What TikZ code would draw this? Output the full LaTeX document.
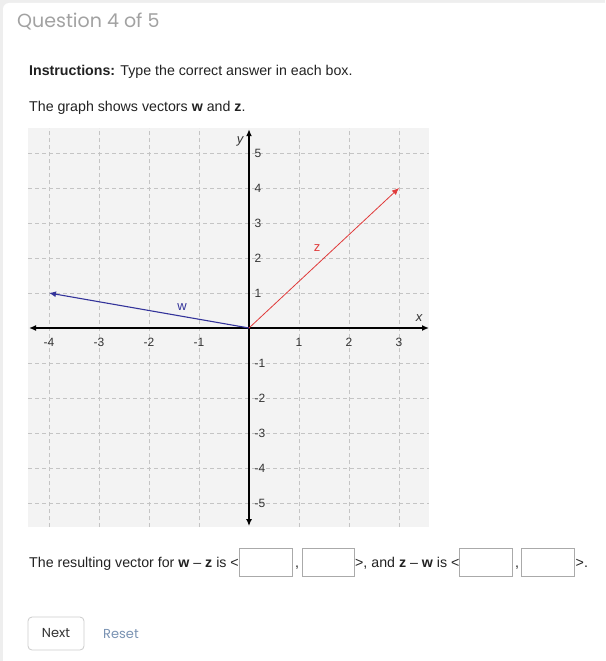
\documentclass[tikz,border=0pt]{standalone}
\usepackage{fontspec}
\setmainfont{Liberation Sans}
\newfontfamily\headfont{Poppins}
\usetikzlibrary{arrows.meta}
\definecolor{pagebg}{HTML}{EEEEEE}
\definecolor{graphbg}{HTML}{F3F3F3}
\definecolor{gridc}{HTML}{C4C4C4}
\definecolor{titlegray}{HTML}{A2A2A2}
\definecolor{textc}{HTML}{222222}
\definecolor{labelc}{HTML}{333333}
\definecolor{wcol}{HTML}{33339A}
\definecolor{zcol}{HTML}{E03A3A}
\definecolor{boxc}{HTML}{AAAAAA}
\definecolor{btnborder}{HTML}{CCCCCC}
\definecolor{resetc}{HTML}{7A93B3}
\tikzset{
  bodytext/.style={inner sep=0pt, text=textc, font=\fontsize{14.2}{16}\selectfont},
  gridline/.style={gridc, line width=0.8pt, dash pattern=on 4pt off 3pt},
  axisline/.style={black, line width=1.4pt, {Latex[length=7pt,width=6pt]}-{Latex[length=7pt,width=6pt]}},
  ticklabel/.style={inner sep=0pt, text=labelc, font=\fontsize{12}{14}\selectfont},
  vecw/.style={wcol, line width=1.1pt, -{Latex[length=7pt,width=6pt]}},
  vecz/.style={zcol, line width=0.8pt, -{Latex[length=7pt,width=6pt]}},
  ansbox/.style={draw=boxc, line width=0.9pt}
}
\begin{document}
\begin{tikzpicture}[x=1pt,y=-1pt]
\useasboundingbox (0,0) rectangle (605,661);
\clip (0,0) rectangle (605,661);
\fill[pagebg] (0,0) rectangle (605,661);
\fill[white, rounded corners=6pt] (3,3) rectangle (630,690);

% title
\node[anchor=west, inner sep=0pt, text=titlegray, font=\headfont\fontsize{19}{22}\selectfont] (title) at (17,21) {Question 4 of 5};

% instructions
\node[bodytext, anchor=base west] (instr) at (29,75.5) {\textbf{Instructions:} Type the correct answer in each box.};
\node[bodytext, anchor=base west] (intro) at (29,111) {The graph shows vectors \textbf{w} and \textbf{z}.};

% graph
\fill[graphbg] (28,128) rectangle (429,527);
\begin{scope}[shift={(249,328)}, x=50pt, y=35pt]
  \foreach \gx in {-4,-3,-2,-1,1,2,3}
    \draw[gridline] (\gx,-5.686) -- (\gx,5.714);
  \foreach \gy in {-5,-4,-3,-2,-1,1,2,3,4,5}
    \draw[gridline] (-4.42,\gy) -- (3.6,\gy);
  \coordinate (xl) at (-4.4,0);
  \coordinate (xr) at (3.6,0);
  \coordinate (yb) at (0,-5.66);
  \coordinate (yt) at (0,5.68);
  \draw[axisline] (xl) -- (xr);
  \draw[axisline] (yb) -- (yt);
  \foreach \gx in {-4,-3,-2,-1,1,2,3}
    \node[ticklabel] (tx\gx) at (\gx,-0.4) {\gx};
  \foreach \gy in {-5,-4,-3,-2,-1,1,2,3,4,5}
    \node[ticklabel, anchor=west] (ty\gy) at (0.11,\gy) {\gy};
  \node[ticklabel, font=\itshape\fontsize{13}{15}\selectfont] (xlab) at (3.4,0.27) {x};
  \node[ticklabel, font=\itshape\fontsize{13}{15}\selectfont] (ylab) at (-0.18,5.34) {y};
  \coordinate (O) at (0,0);
  \coordinate (W) at (-4,1);
  \coordinate (Z) at (3,4);
  \draw[vecw] (O) -- (W);
  \draw[vecz] (O) -- (Z);
  \node[text=wcol, inner sep=0pt, font=\fontsize{13}{15}\selectfont] (wlab) at (-1.34,0.6) {w};
  \node[text=zcol, inner sep=0pt, font=\fontsize{13}{15}\selectfont] (zlab) at (1.36,2.29) {z};
\end{scope}

% answer line
\node[bodytext, anchor=base west] (t1) at (29,567) {The resulting vector for \textbf{w} -- \textbf{z} is <};
\draw[ansbox] (239.5,548.5) rectangle (292.5,576.5);
\node[bodytext, anchor=base] (c1) at (297,567) {,};
\draw[ansbox] (302.5,548.5) rectangle (354,576.5);
\node[bodytext, anchor=base west] (t2) at (355,567) {>, and \textbf{z} -- \textbf{w} is <};
\draw[ansbox] (459.5,548.5) rectangle (512.5,576.5);
\node[bodytext, anchor=base] (c2) at (517,567) {,};
\draw[ansbox] (521.5,548.5) rectangle (574.5,576.5);
\node[bodytext, anchor=base west] (t3) at (575.5,567) {>.};

% buttons
\node[draw=btnborder, line width=0.8pt, rounded corners=4pt, minimum width=56pt, minimum height=33pt, inner sep=0pt, text=labelc, font=\headfont\fontsize{13}{15}\selectfont] (next) at (56,633.5) {Next};
\node[inner sep=0pt, text=resetc, font=\headfont\fontsize{13}{15}\selectfont] (reset) at (121,634) {Reset};
\end{tikzpicture}
\end{document}
